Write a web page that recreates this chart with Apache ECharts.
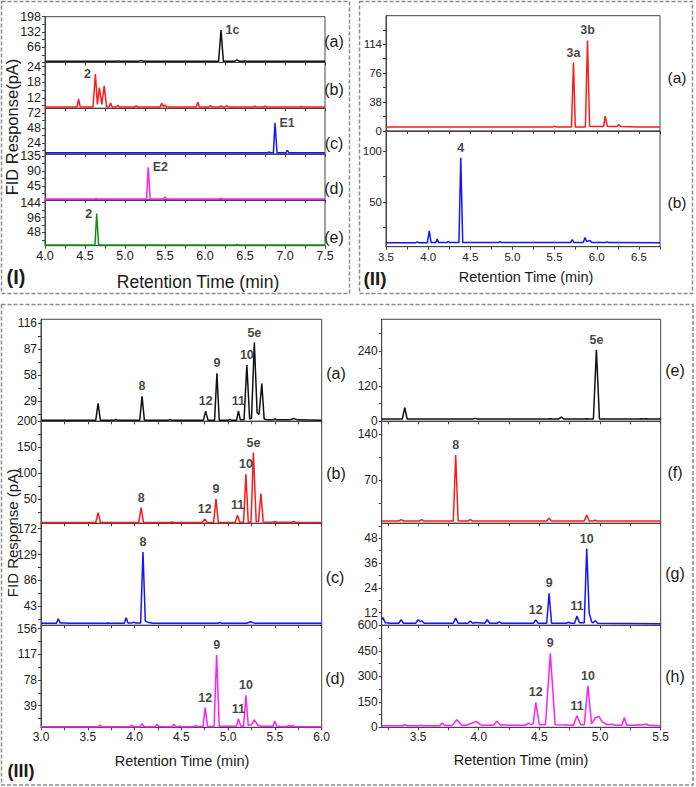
<!DOCTYPE html>
<html>
<head>
<meta charset="utf-8">
<script src="https://cdn.jsdelivr.net/npm/echarts@6/dist/echarts.min.js"></script>
<style>
  html, body { margin: 0; padding: 0; background: #fff; }
  #main { width: 696px; height: 787px; }
</style>
</head>
<body>
<div id="main"></div>
<script>
// ---- x tick labels ----
var xTicksI = [4.0, 4.5, 5.0, 5.5, 6.0, 6.5, 7.0, 7.5];
var xTicksII = [3.5, 4.0, 4.5, 5.0, 5.5, 6.0, 6.5];
var xTicksIIIL = [3.0, 3.5, 4.0, 4.5, 5.0, 5.5, 6.0];
var xTicksIIIR = [3.5, 4.0, 4.5, 5.0, 5.5];

// ---- y tick labels ----
var yLabIa = [66, 132, 198];
var yLabIb = [12, 18, 24];
var yLabIc = [24, 48, 72];
var yLabId = [45, 90, 135];
var yLabIe = [48, 96, 144];
var yLabIIa = [0, 38, 76, 114];
var yLabIIb = [50, 100];
var yLabIIIa = [29, 58, 87, 116];
var yLabIIIb = [50, 100, 150, 200];
var yLabIIIc = [43, 86, 129, 172];
var yLabIIId = [39, 78, 117, 156];
var yLabIIIe = [0, 120, 240];
var yLabIIIf = [70, 140];
var yLabIIIg = [12, 24, 36, 48];
var yLabIIIh = [0, 150, 300, 450, 600];

// ---- traces [time(min), response(pA)] ----
var traceIa = [[4.0,5],[4.9,5],[4.92,7],[4.94,5],[5.17,5],[5.2,9],[5.23,5],[6.17,5],[6.2,140],[6.23,5],[6.37,5],[6.4,11],[6.43,5],[6.48,5],[6.5,7],[6.52,5],[7.5,5]];
var traceIb = [[4.0,8.5],[4.4,8.5],[4.42,11.5],[4.44,8.5],[4.6,8.5],[4.63,21.2],[4.655,9.5],[4.68,16],[4.71,9.5],[4.74,16.6],[4.77,8.6],[4.8,8.5],[4.82,10],[4.84,8.5],[4.89,8.5],[4.91,9.2],[4.93,8.5],[5.12,8.5],[5.14,8.9],[5.16,8.5],[5.44,8.5],[5.46,10],[5.48,8.6],[5.5,9.3],[5.52,8.5],[5.89,8.5],[5.91,10.3],[5.93,8.5],[6.05,8.5],[6.07,9.1],[6.09,8.5],[6.18,8.5],[6.2,8.9],[6.22,8.5],[6.25,8.5],[6.27,9.0],[6.29,8.5],[6.6,8.5],[6.62,8.8],[6.64,8.5],[6.73,8.5],[6.75,8.8],[6.77,8.5],[7.18,8.5],[7.2,8.7],[7.22,8.5],[7.5,8.5]];
var traceIc = [[4.0,8],[6.78,8],[6.8,9.5],[6.82,8],[6.855,8],[6.875,56.5],[6.9,8],[7.01,8],[7.03,12],[7.05,8],[7.5,8]];
var traceId = [[4.0,6],[4.62,6],[4.64,7],[4.66,6],[5.27,6],[5.29,101],[5.315,6],[5.48,6],[5.5,12],[5.52,6],[6.18,6],[6.2,8.5],[6.22,6],[7.5,6]];
var traceIe = [[4.0,7],[4.625,7],[4.646,108.8],[4.67,7],[6.38,7],[6.4,9],[6.42,7],[7.5,7]];

var traceIIa = [[3.5,5.5],[5.48,5.5],[5.5,6.5],[5.52,5.5],[5.7,5.5],[5.724,90],[5.745,5.5],[5.865,5.5],[5.89,119],[5.915,6.5],[5.95,6],[6.08,6],[6.1,19.6],[6.125,6.5],[6.16,6],[6.24,6],[6.26,8.8],[6.28,6],[6.5,5.5],[6.75,5.5]];
var traceIIb = [[3.5,9.8],[3.85,9.8],[3.87,10.8],[3.89,9.8],[3.99,9.8],[4.013,21.6],[4.035,10],[4.09,10],[4.107,13.4],[4.125,10],[4.22,10],[4.24,11],[4.26,10],[4.365,10],[4.387,93.1],[4.41,10],[4.83,10],[4.85,11],[4.87,10],[5.69,10],[5.71,13],[5.73,10],[5.84,10],[5.86,15],[5.88,11],[5.92,12],[5.94,10],[6.1,10],[6.12,10.8],[6.14,10],[6.75,9.8]];

var traceIIIa = [[3.0,7.5],[3.585,7.5],[3.61,26.4],[3.635,7.5],[3.78,7.5],[3.8,8.5],[3.82,7.5],[4.055,7.5],[4.08,34.3],[4.105,7.5],[4.36,7.5],[4.38,8.5],[4.4,7.5],[4.735,7.5],[4.76,17.7],[4.785,7.5],[4.855,7.5],[4.88,60],[4.905,7.5],[5.0,7.5],[5.02,8.5],[5.04,7.5],[5.09,7.5],[5.11,18],[5.13,8],[5.17,8],[5.2,69.3],[5.23,9],[5.25,10],[5.28,94.5],[5.31,16],[5.33,14],[5.36,48.6],[5.385,9],[5.42,8],[5.48,8],[5.5,9],[5.52,8],[5.66,8],[5.7,9.5],[5.74,8],[6.0,7.5]];
var traceIIIb = [[3.0,5],[3.585,5],[3.61,24],[3.635,5],[4.045,5],[4.07,33.8],[4.095,5],[4.38,5],[4.4,6],[4.42,5],[4.725,5],[4.75,12],[4.775,5],[4.845,5],[4.87,50.6],[4.895,5],[5.075,5],[5.1,19],[5.125,5.5],[5.165,5.5],[5.19,98],[5.215,6],[5.245,6],[5.27,139.8],[5.3,7],[5.325,7],[5.35,60.8],[5.375,6],[5.48,5.5],[5.5,7],[5.52,5.5],[5.68,5.5],[5.7,7],[5.72,5.5],[6.0,5]];
var traceIIIc = [[3.0,14.4],[3.165,14.4],[3.185,22],[3.205,15],[3.25,14.8],[3.3,14.4],[3.7,14.4],[3.72,15],[3.74,14.4],[3.89,14.4],[3.91,23.7],[3.93,15],[3.97,15],[3.99,16],[4.01,15],[4.065,15],[4.09,133.3],[4.115,18],[4.15,15.5],[4.2,14.6],[4.89,14.4],[4.91,16],[4.93,14.4],[5.2,14.4],[5.24,17],[5.28,14.6],[6.0,14.4]];
var traceIIId = [[3.0,7.3],[3.61,7.3],[3.63,9.5],[3.65,7.3],[3.95,7.3],[3.97,9.5],[3.99,7.3],[4.06,7.3],[4.08,12],[4.1,7.5],[4.13,7.3],[4.22,7.3],[4.24,11],[4.26,7.5],[4.4,7.3],[4.42,11],[4.44,7.3],[4.46,7.3],[4.48,8.5],[4.5,7.3],[4.63,7.3],[4.65,9],[4.67,7.5],[4.73,7.5],[4.755,36],[4.78,7.5],[4.85,7.5],[4.877,116.4],[4.905,8],[5.09,8],[5.11,19.4],[5.135,8],[5.165,8],[5.19,55],[5.215,9],[5.25,10],[5.28,17.4],[5.32,9],[5.36,8],[5.48,8],[5.5,16],[5.52,8],[5.63,7.5],[5.65,9],[5.67,7.5],[5.69,9],[5.71,7.5],[6.0,7.3]];

var traceIIIe = [[3.2,7.8],[3.37,7.8],[3.39,46.6],[3.41,7.8],[3.95,7.8],[3.97,10],[3.99,7.8],[4.57,7.8],[4.59,9],[4.61,7.8],[4.66,8],[4.68,14],[4.7,8],[4.87,7.8],[4.89,9],[4.91,7.8],[4.945,7.8],[4.97,243.7],[4.995,7.8],[5.32,7.8],[5.34,9],[5.36,7.8],[5.38,8.5],[5.4,7.8],[5.5,7.8]];
var traceIIIf = [[3.2,8],[3.34,8],[3.36,10],[3.38,8],[3.51,8],[3.53,10],[3.55,8],[3.79,8],[3.81,107.8],[3.83,8],[3.91,8],[3.93,10],[3.95,8],[4.56,8],[4.58,12],[4.6,8],[4.87,8],[4.89,17],[4.91,8],[4.94,8],[4.96,9],[4.98,8],[5.5,8]];
var traceIIIg = [[3.2,8.5],[3.21,9.5],[3.23,7],[3.27,6.8],[3.34,6.8],[3.36,8.5],[3.38,6.8],[3.48,6.8],[3.5,8.5],[3.52,7.5],[3.53,8],[3.55,6.8],[3.79,6.8],[3.81,9.3],[3.83,6.8],[3.91,6.8],[3.93,7.8],[3.95,6.8],[3.97,7.2],[4.05,6.8],[4.07,8.5],[4.09,6.8],[4.15,6.8],[4.17,7.5],[4.19,6.8],[4.45,6.8],[4.47,8.4],[4.49,6.8],[4.56,6.8],[4.58,21.3],[4.6,6.8],[4.72,6.8],[4.74,7.3],[4.76,6.8],[4.79,6.8],[4.81,10.3],[4.83,7],[4.87,7],[4.89,43],[4.91,12],[4.93,7.5],[4.94,7],[4.96,8],[4.98,6.8],[5.5,6.6]];
var traceIIIh = [[3.2,9],[3.37,9],[3.39,15],[3.41,9],[3.5,9],[3.52,12],[3.54,9],[3.68,9],[3.7,25],[3.72,10],[3.78,10],[3.82,45],[3.86,12],[3.9,12],[3.98,35],[4.02,12],[4.12,12],[4.15,35],[4.18,12],[4.2,15],[4.24,12],[4.38,12],[4.41,25],[4.43,15],[4.45,20],[4.47,146],[4.5,15],[4.55,15],[4.59,435],[4.63,15],[4.78,12],[4.81,68],[4.84,15],[4.87,15],[4.9,243.8],[4.93,20],[4.96,55],[4.99,64],[5.02,30],[5.06,15],[5.1,18],[5.13,12],[5.18,12],[5.2,58],[5.22,12],[5.3,12],[5.32,15],[5.34,12],[5.38,20],[5.4,12],[5.5,9]];

// ---- peak labels [time, height, text] ----
var peaksIa = [[6.2, 140, '1c']];
var peaksIb = [[4.63, 21.2, '2']];
var peaksIc = [[6.875, 56.5, 'E1']];
var peaksId = [[5.29, 101, 'E2']];
var peaksIe = [[4.646, 108.8, '2']];
var peaksIIa = [[5.724, 90, '3a'], [5.89, 119, '3b']];
var peaksIIb = [[4.387, 93.1, '4']];
var peaksIIIa = [[4.08,34.3,'8'],[4.76,17.7,'12'],[4.88,60,'9'],[5.11,18,'11'],[5.2,69.3,'10'],[5.28,94.5,'5e']];
var peaksIIIb = [[4.07,33.8,'8'],[4.75,12,'12'],[4.87,50.6,'9'],[5.1,19,'11'],[5.19,98,'10'],[5.27,139.8,'5e']];
var peaksIIIc = [[4.09,133.3,'8']];
var peaksIIId = [[4.755,36,'12'],[4.877,116.4,'9'],[5.11,19.4,'11'],[5.19,55,'10']];
var peaksIIIe = [[4.97,243.7,'5e']];
var peaksIIIf = [[3.81,107.8,'8']];
var peaksIIIg = [[4.47,8.4,'12'],[4.58,21.3,'9'],[4.81,10.3,'11'],[4.89,43,'10']];
var peaksIIIh = [[4.47,146,'12'],[4.59,435,'9'],[4.81,68,'11'],[4.9,243.8,'10']];

// ---- style ----
var FONT = '"Liberation Sans", Arial, sans-serif';
var AX = '#444';
var C = { k: '#111111', r: '#ff1a1a', b: '#1414ff', m: '#ff1fff', g: '#109010' };

var hI = 45.8, hIII = 102;
var plots = [
  { l: 45, t: 16.7, w: 280, h: hI, x: [4, 7.5], xt: xTicksI, showX: false, y: [0, 198], yl: yLabIa, d: traceIa, c: C.k, p: peaksIa, pos: { '1c': 'right' }, fs: 12.5 },
  { l: 45, t: 16.7 + hI, w: 280, h: hI, x: [4, 7.5], xt: xTicksI, showX: false, y: [8, 25.6], yl: yLabIb, d: traceIb, c: C.r, p: peaksIb, pos: { '2': 'left' }, fs: 12.5 },
  { l: 45, t: 16.7 + 2 * hI, w: 280, h: hI, x: [4, 7.5], xt: xTicksI, showX: false, y: [6, 80], yl: yLabIc, d: traceIc, c: C.b, p: peaksIc, pos: { 'E1': 'right' }, fs: 12.5 },
  { l: 45, t: 16.7 + 3 * hI, w: 280, h: hI, x: [4, 7.5], xt: xTicksI, showX: false, y: [3, 141], yl: yLabId, d: traceId, c: C.m, p: peaksId, pos: { 'E2': 'right' }, fs: 12.5 },
  { l: 45, t: 16.7 + 4 * hI, w: 280, h: hI, x: [4, 7.5], xt: xTicksI, showX: true, y: [5, 153], yl: yLabIe, d: traceIe, c: C.g, p: peaksIe, pos: { '2': 'left' }, fs: 12.5 },

  { l: 386, t: 15.7, w: 274, h: 115.4, x: [3.5, 6.75], xt: xTicksII, showX: false, y: [0, 151.5], yl: yLabIIa, d: traceIIa, c: C.r, p: peaksIIa, pos: {}, fs: 11.5 },
  { l: 386, t: 131.1, w: 274, h: 115.6, x: [3.5, 6.75], xt: xTicksII, showX: true, y: [6, 119.3], yl: yLabIIb, d: traceIIb, c: C.b, p: peaksIIb, pos: {}, fs: 11.5 },

  { l: 41, t: 319.3, w: 280.7, h: hIII, x: [3, 6], xt: xTicksIIIL, showX: false, y: [6.4, 120.5], yl: yLabIIIa, d: traceIIIa, c: C.k, p: peaksIIIa, pos: {}, fs: 12 },
  { l: 41, t: 319.3 + hIII, w: 280.7, h: hIII, x: [3, 6], xt: xTicksIIIL, showX: false, y: [3.5, 200], yl: yLabIIIb, d: traceIIIb, c: C.r, p: peaksIIIb, pos: {}, fs: 12 },
  { l: 41, t: 319.3 + 2 * hIII, w: 280.7, h: hIII, x: [3, 6], xt: xTicksIIIL, showX: false, y: [11, 181], yl: yLabIIIc, d: traceIIIc, c: C.b, p: peaksIIIc, pos: {}, fs: 12 },
  { l: 41, t: 319.3 + 3 * hIII, w: 280.7, h: hIII, x: [3, 6], xt: xTicksIIIL, showX: true, y: [6.3, 161], yl: yLabIIId, d: traceIIId, c: C.m, p: peaksIIId, pos: {}, fs: 12 },

  { l: 381.7, t: 319.3, w: 279, h: hIII, x: [3.2, 5.5], xt: xTicksIIIR, showX: false, y: [0, 348], yl: yLabIIIe, d: traceIIIe, c: C.k, p: peaksIIIe, pos: {}, fs: 12 },
  { l: 381.7, t: 319.3 + hIII, w: 279, h: hIII, x: [3.2, 5.5], xt: xTicksIIIR, showX: false, y: [4.5, 159], yl: yLabIIIf, d: traceIIIf, c: C.r, p: peaksIIIf, pos: {}, fs: 12 },
  { l: 381.7, t: 319.3 + 2 * hIII, w: 279, h: hIII, x: [3.2, 5.5], xt: xTicksIIIR, showX: false, y: [5.8, 55.3], yl: yLabIIIg, d: traceIIIg, c: C.b, p: peaksIIIg, pos: {}, fs: 12 },
  { l: 381.7, t: 319.3 + 3 * hIII, w: 279, h: hIII, x: [3.2, 5.5], xt: xTicksIIIR, showX: true, y: [0, 600], yl: yLabIIIh, d: traceIIIh, c: C.m, p: peaksIIIh, pos: {}, fs: 12 }
];

// major + half-step minor ticks inside [lo, hi]
function withMinor(major, lo, hi) {
  var step = major.length > 1 ? major[1] - major[0] : major[0];
  var half = step / 2, out = [];
  for (var v = major[0]; v >= lo - 1e-9; v -= half) out.push(+v.toFixed(4));
  for (var u = major[0] + half; u <= hi + 1e-9; u += half) out.push(+u.toFixed(4));
  return out;
}

var grids = [], xAxes = [], yAxes = [], series = [];
plots.forEach(function (p, i) {
  grids.push({ left: p.l, top: p.t, width: p.w, height: p.h, show: true, borderColor: AX, borderWidth: 1, containLabel: false });
  xAxes.push({
    gridIndex: i, type: 'value', min: p.x[0], max: p.x[1],
    axisLine: { show: true, onZero: false, lineStyle: { color: AX, width: 1 } },
    axisTick: { show: true, inside: false, length: 3, customValues: withMinor(p.xt, p.x[0], p.x[1]), lineStyle: { color: AX } },
    axisLabel: { show: p.showX, customValues: p.xt, margin: 4, fontSize: p.fs, color: '#222', fontFamily: FONT,
      formatter: function (v) { return v.toFixed(1); } },
    splitLine: { show: false }
  });
  yAxes.push({
    gridIndex: i, type: 'value', min: p.y[0], max: p.y[1],
    axisLine: { show: true, onZero: false, lineStyle: { color: AX, width: 1 } },
    axisTick: { show: true, inside: false, length: 3, customValues: withMinor(p.yl, p.y[0], p.y[1]), lineStyle: { color: AX } },
    axisLabel: { show: true, customValues: p.yl, margin: 4, fontSize: p.fs, color: '#222', fontFamily: FONT },
    splitLine: { show: false }
  });
  series.push({
    type: 'line', xAxisIndex: i, yAxisIndex: i, data: p.d,
    showSymbol: false, symbol: 'none', clip: true,
    lineStyle: { color: p.c, width: 1.5 }, animation: false, z: 2
  });
  series.push({
    type: 'scatter', xAxisIndex: i, yAxisIndex: i, symbolSize: 1,
    itemStyle: { color: 'transparent' }, animation: false, silent: true, z: 5,
    data: p.p.map(function (q) {
      var pos = p.pos[q[2]] || 'top';
      return { value: [q[0], q[1]], name: q[2], label: { position: pos, distance: pos === 'top' ? 3 : 4 } };
    }),
    label: { show: true, formatter: '{b}', fontSize: 12.5, fontWeight: 'bold', color: '#111', fontFamily: FONT }
  });
});

function txt(text, x, y, size, bold, rot) {
  var el = {
    type: 'text', x: x, y: y, z: 10,
    style: { text: text, x: 0, y: 0, fontSize: size, fontFamily: FONT, fontWeight: bold ? 'bold' : 'normal',
      fill: '#1a1a1a', align: 'center', verticalAlign: 'middle' }
  };
  if (rot) el.rotation = rot;
  return el;
}
function box(x, y, w, h) {
  return { type: 'rect', z: 0, shape: { x: x, y: y, width: w, height: h },
    style: { fill: 'none', stroke: '#8c8c8c', lineWidth: 1.5, lineDash: [4, 2] } };
}

var graphics = [
  box(1.5, 1.5, 348, 292), box(359.5, 1.5, 333, 292), box(1.5, 304.5, 691.5, 480.5),
  txt('FID Response(pA)', 12, 127, 16.5, false, Math.PI / 2),
  txt('FID Response (pA)', 12.5, 533, 15, false, Math.PI / 2),
  txt('Retention Time (min)', 198, 282, 17.5, false),
  txt('Retention Time (min)', 526, 277, 14.5, false),
  txt('Retention Time (min)', 182, 761, 14.5, false),
  txt('Retention Time (min)', 521, 760, 14.5, false),
  txt('(I)', 16, 277, 20, true),
  txt('(II)', 375, 278, 19, true),
  txt('(III)', 21, 771, 18, true),
  txt('(a)', 334, 41, 16, false), txt('(b)', 334, 89, 16, false), txt('(c)', 334, 143, 16, false),
  txt('(d)', 334, 188, 16, false), txt('(e)', 334, 237, 16, false),
  txt('(a)', 677, 77, 15.5, false), txt('(b)', 677, 202, 15.5, false),
  txt('(a)', 336, 373, 16, false), txt('(b)', 336, 473, 16, false),
  txt('(c)', 335, 577, 16, false), txt('(d)', 335, 678, 16, false),
  txt('(e)', 675, 370, 16, false), txt('(f)', 675, 472, 16, false),
  txt('(g)', 675, 573, 16, false), txt('(h)', 675, 676, 16, false)
];

var chart = echarts.init(document.getElementById('main'), null, { renderer: 'svg' });
chart.setOption({
  animation: false,
  backgroundColor: '#ffffff',
  grid: grids,
  xAxis: xAxes,
  yAxis: yAxes,
  series: series,
  graphic: graphics
});
</script>
</body>
</html>
